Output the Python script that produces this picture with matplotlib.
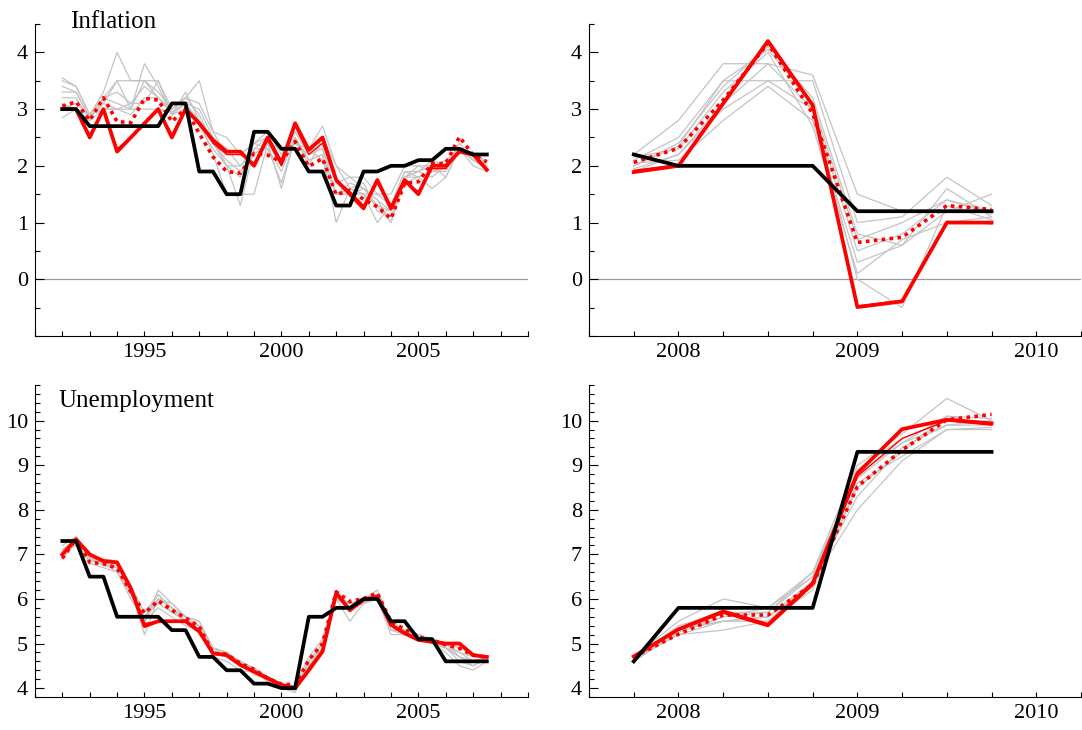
import numpy as np
import matplotlib
matplotlib.use("Agg")
import matplotlib.pyplot as plt
from matplotlib.ticker import MultipleLocator

plt.rcParams['font.family'] = 'serif'
plt.rcParams['font.serif'] = ['Liberation Serif', 'DejaVu Serif']

# semiannual sample 1992-2007, quarterly crisis sample 2007Q4-2009Q4
t_long = np.arange(1992, 2008, 0.5)
t_crisis = np.arange(2007.75, 2010, 0.25)

# ---- inflation, long sample
infl_actual = [3.0, 3.0, 2.7, 2.7, 2.7, 2.7, 2.7, 2.7, 3.1, 3.1, 1.9, 1.9, 1.5, 1.5, 2.6, 2.6,
               2.3, 2.3, 1.9, 1.9, 1.3, 1.3, 1.9, 1.9, 2.0, 2.0, 2.1, 2.1, 2.3, 2.3, 2.2, 2.2]
infl_fc = [3.0, 3.0, 2.5, 3.0, 2.25, 2.5, 2.75, 3.0, 2.5, 3.0, 2.75, 2.45, 2.25, 2.25, 2.0, 2.5,
           2.05, 2.75, 2.28, 2.5, 1.75, 1.5, 1.25, 1.75, 1.25, 1.75, 1.5, 2.0, 2.0, 2.25, 2.2, 1.93]
infl_fc2 = [3.0, 3.0, 2.55, 3.0, 2.3, 2.5, 2.75, 3.0, 2.55, 3.0, 2.75, 2.4, 2.2, 2.2, 2.05, 2.45,
            2.0, 2.7, 2.2, 2.4, 1.75, 1.55, 1.3, 1.7, 1.3, 1.7, 1.55, 1.95, 1.95, 2.25, 2.2, 1.95]
infl_mean = [3.05, 3.13, 2.8, 3.2, 2.78, 2.76, 3.19, 3.16, 2.78, 3.01, 2.57, 2.16, 1.9, 1.87, 2.22, 2.19,
             2.07, 2.43, 1.99, 2.13, 1.49, 1.57, 1.41, 1.28, 1.07, 1.69, 1.72, 2.04, 2.04, 2.51, 2.19, 2.07]
infl_draws = [
    [3.55, 3.40, 2.90, 3.30, 4.00, 3.50, 3.50, 3.50, 3.00, 3.20, 3.50, 2.60, 2.50, 2.20, 2.40, 2.60,
     2.20, 2.70, 2.30, 2.70, 2.00, 1.80, 1.80, 1.50, 1.50, 2.00, 2.00, 2.00, 2.10, 2.30, 2.20, 2.00],
    [3.40, 3.30, 2.85, 3.10, 3.50, 3.00, 3.80, 3.40, 2.90, 3.10, 3.00, 2.50, 2.30, 2.00, 2.30, 2.50,
     2.00, 2.60, 2.20, 2.30, 1.50, 1.70, 1.60, 1.30, 1.20, 1.80, 1.90, 1.80, 2.00, 2.40, 2.10, 1.95],
    [3.20, 3.20, 2.80, 3.20, 3.10, 3.00, 3.50, 3.30, 3.00, 3.20, 2.90, 2.40, 2.00, 1.30, 2.30, 2.30,
     1.70, 2.50, 2.10, 2.20, 1.00, 1.60, 1.70, 1.20, 1.10, 1.70, 1.80, 1.60, 1.80, 2.30, 2.20, 2.05],
    [3.00, 3.10, 2.90, 3.00, 3.00, 2.90, 3.20, 3.20, 2.90, 3.00, 2.80, 2.20, 1.50, 1.50, 1.50, 2.40,
     2.00, 2.40, 2.30, 2.10, 1.50, 1.50, 1.50, 1.00, 1.30, 1.90, 1.90, 2.00, 1.80, 2.30, 2.00, 1.90],
    [2.85, 3.00, 2.90, 3.20, 3.30, 3.10, 3.40, 3.20, 2.95, 3.10, 2.70, 2.30, 2.00, 2.00, 2.20, 2.40,
     2.30, 2.40, 2.20, 2.40, 1.70, 1.50, 1.60, 1.40, 1.00, 1.80, 1.90, 2.10, 2.00, 2.30, 2.20, 2.10],
    [3.30, 3.30, 2.85, 3.10, 3.00, 3.10, 3.10, 3.50, 2.90, 3.30, 2.80, 2.50, 2.00, 1.80, 2.40, 2.30,
     1.90, 2.50, 2.00, 2.50, 2.00, 1.60, 1.50, 1.50, 1.30, 1.90, 1.80, 1.90, 1.90, 2.30, 2.10, 2.00],
    [3.50, 3.40, 2.90, 3.20, 3.50, 3.50, 3.50, 3.20, 3.00, 3.20, 3.10, 2.60, 2.20, 2.20, 2.40, 2.50,
     2.10, 2.60, 2.30, 2.30, 1.70, 1.80, 1.60, 1.40, 1.20, 1.80, 2.00, 1.90, 2.00, 2.30, 2.20, 1.95],
    [3.10, 3.00, 2.80, 3.00, 3.00, 3.00, 3.00, 3.00, 2.95, 3.10, 2.80, 2.40, 2.10, 1.90, 2.20, 2.40,
     1.60, 2.50, 2.10, 2.20, 1.50, 1.60, 1.50, 1.30, 1.00, 1.80, 1.80, 1.90, 2.00, 2.30, 2.10, 2.00],
]

# ---- inflation, crisis
inflc_actual = [2.2, 2.0, 2.0, 2.0, 2.0, 1.2, 1.2, 1.2, 1.2]
inflc_fc = [1.89, 2.0, 3.1, 4.2, 3.07, -0.49, -0.39, 1.0, 1.0]
inflc_fc2 = [1.92, 2.02, 3.1, 4.18, 3.05, -0.47, -0.37, 1.02, 0.98]
inflc_mean = [2.06, 2.31, 3.16, 4.16, 2.92, 0.65, 0.74, 1.3, 1.23]
inflc_draws = [
    [2.2, 2.8, 3.8, 3.8, 3.6, 1.5, 1.2, 1.2, 1.2],
    [2.1, 2.5, 3.5, 3.5, 3.5, 1.0, 1.1, 1.8, 1.3],
    [2.0, 2.4, 3.4, 4.1, 3.2, 0.8, 0.6, 1.6, 1.1],
    [1.95, 2.2, 3.0, 3.5, 3.0, 0.5, 0.8, 1.4, 1.2],
    [2.05, 2.1, 2.8, 3.4, 2.8, 0.3, 0.6, 1.2, 1.5],
    [2.15, 2.3, 3.3, 4.0, 2.7, 0.1, 0.7, 1.0, 1.1],
    [1.9, 2.2, 3.1, 3.8, 3.0, 0.0, -0.5, 1.3, 1.05],
    [2.0, 2.35, 3.5, 4.05, 3.1, 0.7, 1.0, 1.4, 1.15],
]

# ---- unemployment, long sample
unemp_actual = [7.3, 7.3, 6.5, 6.5, 5.6, 5.6, 5.6, 5.6, 5.3, 5.3, 4.7, 4.7, 4.4, 4.4, 4.1, 4.1,
                4.0, 4.0, 5.6, 5.6, 5.8, 5.8, 6.0, 6.0, 5.5, 5.5, 5.1, 5.1, 4.6, 4.6, 4.6, 4.6]
unemp_fc = [7.0, 7.34, 7.0, 6.85, 6.82, 6.24, 5.39, 5.5, 5.5, 5.5, 5.27, 4.78, 4.74, 4.52, 4.37, 4.22,
            4.07, 4.0, 4.4, 4.82, 6.13, 5.75, 5.98, 6.05, 5.42, 5.23, 5.08, 5.04, 5.0, 5.0, 4.74, 4.7]
unemp_fc2 = [7.0, 7.3, 7.0, 6.85, 6.8, 6.2, 5.45, 5.5, 5.5, 5.5, 5.3, 4.8, 4.75, 4.5, 4.35, 4.2,
             4.05, 4.0, 4.45, 4.85, 6.1, 5.75, 6.0, 6.05, 5.4, 5.25, 5.1, 5.05, 5.0, 5.0, 4.75, 4.7]
unemp_mean = [6.91, 7.34, 6.82, 6.79, 6.69, 6.16, 5.68, 5.96, 5.75, 5.57, 5.38, 4.78, 4.76, 4.55, 4.42, 4.22,
              4.09, 4.07, 4.63, 5.0, 6.16, 5.94, 6.01, 6.13, 5.49, 5.32, 5.15, 5.08, 4.97, 4.89, 4.74, 4.69]
unemp_draws = [
    [7.1, 7.35, 6.95, 6.9, 6.85, 6.3, 5.5, 6.2, 5.9, 5.6, 5.4, 4.9, 4.8, 4.6, 4.45, 4.25,
     4.1, 4.05, 4.7, 5.1, 6.1, 5.9, 6.0, 6.1, 5.4, 5.3, 5.2, 5.1, 5.0, 4.9, 4.75, 4.7],
    [6.9, 7.3, 6.9, 6.75, 6.7, 6.2, 5.2, 6.0, 5.8, 5.5, 5.4, 4.8, 4.7, 4.5, 4.4, 4.2,
     4.0, 3.9, 4.5, 4.9, 6.2, 5.8, 5.9, 6.1, 5.3, 5.3, 5.1, 5.1, 4.9, 4.8, 4.7, 4.7],
    [7.0, 7.2, 6.85, 6.8, 6.6, 6.1, 5.6, 5.9, 5.7, 5.6, 5.5, 4.9, 4.8, 4.6, 4.3, 4.2,
     4.05, 4.0, 4.6, 5.0, 6.0, 5.5, 5.9, 6.0, 5.2, 5.2, 5.1, 5.0, 4.9, 4.7, 4.6, 4.6],
    [6.9, 7.3, 6.8, 6.7, 6.6, 6.0, 5.5, 5.8, 5.6, 5.4, 5.3, 4.7, 4.6, 4.4, 4.35, 4.15,
     4.0, 4.0, 4.4, 4.8, 6.0, 5.8, 5.9, 6.0, 5.4, 5.2, 5.1, 5.0, 4.8, 4.5, 4.4, 4.6],
    [7.1, 7.3, 6.9, 6.8, 6.7, 6.2, 5.6, 6.0, 5.8, 5.5, 5.4, 4.9, 4.7, 4.5, 4.4, 4.25,
     4.1, 4.0, 4.6, 5.0, 6.1, 5.9, 6.0, 6.1, 5.3, 5.3, 5.2, 5.0, 4.9, 4.7, 4.6, 4.65],
    [7.0, 7.3, 6.95, 6.8, 6.75, 6.3, 5.7, 6.1, 5.8, 5.6, 5.3, 4.8, 4.7, 4.5, 4.4, 4.2,
     4.0, 3.95, 4.5, 4.9, 6.1, 5.7, 6.0, 6.1, 5.4, 5.3, 5.1, 5.1, 5.0, 4.8, 4.6, 4.7],
    [7.2, 7.4, 6.9, 6.9, 6.8, 6.3, 5.5, 6.0, 5.9, 5.6, 5.5, 4.9, 4.8, 4.55, 4.45, 4.2,
     4.1, 4.0, 4.5, 4.8, 6.1, 5.8, 6.0, 6.2, 5.5, 5.3, 5.2, 5.1, 5.0, 4.7, 4.5, 4.65],
    [7.0, 7.3, 6.9, 6.8, 6.7, 6.1, 5.6, 6.1, 5.7, 5.5, 5.4, 4.8, 4.8, 4.5, 4.4, 4.15,
     4.0, 4.0, 4.6, 4.9, 6.0, 5.9, 5.9, 6.1, 5.3, 5.2, 5.1, 5.0, 4.9, 4.6, 4.5, 4.7],
]

# ---- unemployment, crisis
unempc_actual = [4.6, 5.8, 5.8, 5.8, 5.8, 9.3, 9.3, 9.3, 9.3]
unempc_fc = [4.71, 5.32, 5.72, 5.42, 6.35, 8.82, 9.81, 10.02, 9.94]
unempc_fc2 = [4.7, 5.3, 5.68, 5.38, 6.3, 8.75, 9.6, 10.0, 9.9]
unempc_mean = [4.7, 5.21, 5.64, 5.64, 6.32, 8.52, 9.34, 10.02, 10.14]
unempc_draws = [
    [4.7, 5.5, 6.0, 5.8, 6.6, 9.0, 9.7, 10.5, 10.0],
    [4.65, 5.2, 5.3, 5.5, 6.4, 8.0, 9.1, 9.8, 9.8],
    [4.7, 5.3, 5.5, 5.6, 6.3, 8.5, 9.3, 10.1, 9.9],
    [4.6, 5.25, 5.6, 5.7, 6.5, 8.8, 9.5, 9.9, 10.0],
    [4.7, 5.35, 5.5, 5.5, 6.2, 8.6, 9.2, 9.8, 9.85],
    [4.65, 5.3, 5.6, 5.8, 6.5, 8.9, 9.6, 10.0, 9.95],
    [4.7, 5.2, 5.5, 5.6, 6.4, 8.3, 9.4, 9.9, 9.9],
    [4.65, 5.4, 5.7, 5.7, 6.6, 8.7, 9.5, 10.1, 10.05],
]


def panel(ax, t, draws, fc2, fc, mean, actual):
    for d in draws:
        ax.plot(t, d, color='#c4c4c4', lw=0.9, zorder=2)
    ax.plot(t, fc2, color='red', lw=1.0, zorder=3)
    ax.plot(t, fc, color='red', lw=2.7, zorder=4)
    ax.plot(t, mean, color='red', lw=2.6, ls=(0, (1, 1.2)), zorder=5)
    ax.plot(t, actual, color='black', lw=2.7, zorder=6)
    for s in ['top', 'right']:
        ax.spines[s].set_visible(False)
    ax.tick_params(which='both', direction='in', labelsize=16, width=0.8, pad=5)
    ax.tick_params(axis='x', which='both', length=3.6)
    ax.tick_params(axis='y', which='major', length=6.5)
    ax.tick_params(axis='y', which='minor', length=3.6)


fig = plt.figure(figsize=(10.82, 7.3), dpi=100)
ax1 = fig.add_axes([0.0323, 0.5397, 0.4556, 0.4274])
ax2 = fig.add_axes([0.5444, 0.5397, 0.4547, 0.4274])
ax3 = fig.add_axes([0.0323, 0.0452, 0.4556, 0.4274])
ax4 = fig.add_axes([0.5444, 0.0452, 0.4547, 0.4274])

panel(ax1, t_long, infl_draws, infl_fc2, infl_fc, infl_mean, infl_actual)
panel(ax2, t_crisis, inflc_draws, inflc_fc2, inflc_fc, inflc_mean, inflc_actual)
panel(ax3, t_long, unemp_draws, unemp_fc2, unemp_fc, unemp_mean, unemp_actual)
panel(ax4, t_crisis, unempc_draws, unempc_fc2, unempc_fc, unempc_mean, unempc_actual)

for ax in (ax1, ax3):
    ax.set_xlim(1991, 2009)
    ax.set_xticks([1995, 2000, 2005])
    ax.xaxis.set_minor_locator(MultipleLocator(1))
for ax in (ax2, ax4):
    ax.set_xlim(2007.5, 2010.25)
    ax.set_xticks([2008, 2009, 2010])
    ax.xaxis.set_minor_locator(MultipleLocator(0.25))

for ax in (ax1, ax2):
    ax.set_ylim(-1, 4.5)
    ax.set_yticks([0, 1, 2, 3, 4])
    ax.yaxis.set_minor_locator(MultipleLocator(0.5))
    ax.axhline(0, color='#9a9a9a', lw=0.9, zorder=1)
for ax in (ax3, ax4):
    ax.set_ylim(3.8, 10.8)
    ax.set_yticks([4, 5, 6, 7, 8, 9, 10])
    ax.yaxis.set_minor_locator(MultipleLocator(0.2))

ax1.text(0.071, 0.987, 'Inflation', transform=ax1.transAxes, fontsize=18, va='baseline')
ax3.text(0.047, 0.929, 'Unemployment', transform=ax3.transAxes, fontsize=18, va='baseline')

fig.savefig('out.png', dpi=100)
